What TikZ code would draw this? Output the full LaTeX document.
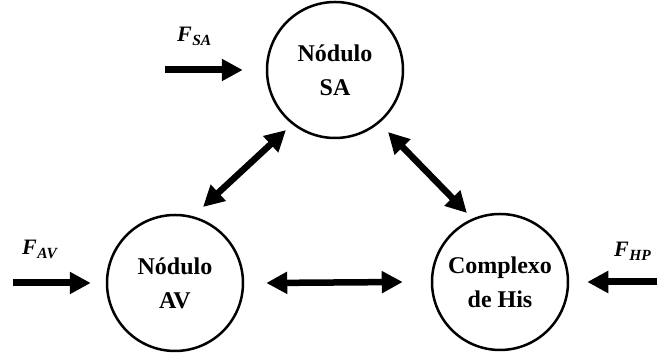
\documentclass[tikz,border=0pt]{standalone}
\usepackage{fontspec}
\setmainfont{Liberation Serif}
\usetikzlibrary{arrows.meta,calc}
\tikzset{
  heart/.style={circle,draw,line width=2.5pt,minimum size=136pt,inner sep=0pt,
    align=center,font=\fontsize{24}{34}\selectfont\bfseries},
  onearr/.style={line width=7pt,-{Triangle[length=21pt,width=21pt]}},
  twoarr/.style={line width=6.5pt,{Triangle[length=21pt,width=21pt]}-{Triangle[length=21pt,width=21pt]}},
  flabel/.style={anchor=base west,inner sep=0pt,font=\fontsize{22}{26}\selectfont\bfseries\itshape}
}
\newcommand{\Fsub}[1]{F\kern0.5pt\raisebox{-4pt}{\fontsize{15.5}{17}\selectfont #1}}
\begin{document}
\begin{tikzpicture}[x=1pt,y=1pt]
\useasboundingbox (0,0) rectangle (657,363);
\node[heart] (sa) at (335,293) {Nódulo\\SA};
\node[heart] (av) at (175,80) {Nódulo\\AV};
\node[heart] (his) at (500,81) {Complexo\\de His};
% external inputs
\coordinate (fsa) at (165,293);
\coordinate (fav) at (13,80);
\coordinate (fhp) at (657,81);
\draw[onearr] (fsa) -- ($(sa.west)+(-23,0)$);
\draw[onearr] (fav) -- ($(av.west)+(-15,0)$);
\draw[onearr] (fhp) -- ($(his.east)+(18,0)$);
\node[flabel] (lsa) at (177,321) {\Fsub{SA}};
\node[flabel] (lav) at (22,108) {\Fsub{AV}};
\node[flabel] (lhp) at (614,106) {\Fsub{HP}};
% internal connections
\draw[twoarr] ($(av)+(69.8:81)$) -- ($(sa)+(230.8:77.5)$);
\draw[twoarr] ($(sa)+(-49.5:81.6)$) -- ($(his)+(115.6:76.5)$);
\draw[twoarr] ($(av.east)+(22,0)$) -- ($(his.west)+(-28,0)$);
\end{tikzpicture}
\end{document}
